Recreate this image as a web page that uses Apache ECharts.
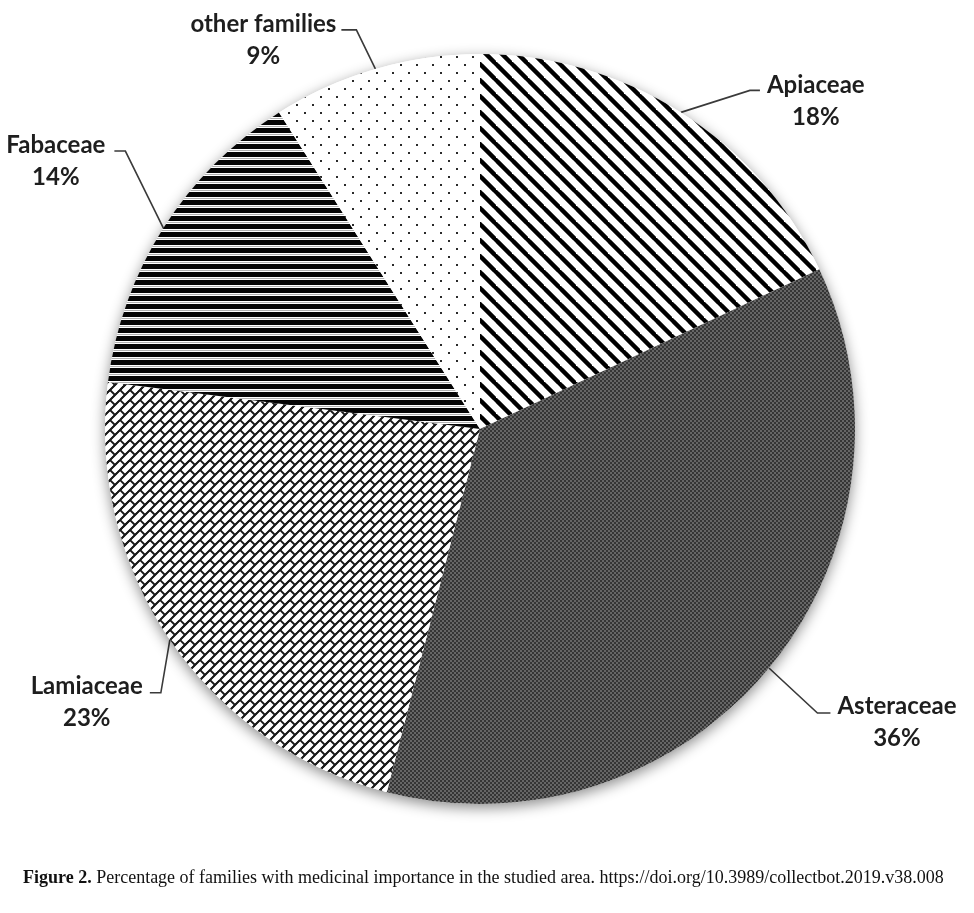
<!DOCTYPE html>
<html><head><meta charset="utf-8">
<script src="https://cdn.jsdelivr.net/npm/echarts@6/dist/echarts.min.js"></script>
<style>html,body{margin:0;padding:0;background:#fff}#c{width:974px;height:913px}</style>
</head><body><div id="c"></div>
<script>
// ---- data ----
const categories = ['Apiaceae', 'Asteraceae', 'Lamiaceae', 'Fabaceae', 'other families'];
const values = [18, 36, 23, 14, 9];
const captionBold = 'Figure 2.';
const captionText = ' Percentage of families with medicinal importance in the studied area. https://doi.org/10.3989/collectbot.2019.v38.008';

// ---- pattern fills ----
function tile(size, draw) {
  const c = document.createElement('canvas');
  c.width = c.height = size;
  const ctx = c.getContext('2d');
  ctx.fillStyle = '#fff';
  ctx.fillRect(0, 0, size, size);
  for (let i = -1; i <= 1; i++) for (let j = -1; j <= 1; j++) {
    ctx.save(); ctx.translate(i * size, j * size); draw(ctx, size); ctx.restore();
  }
  return c;
}
const patDiag = tile(16, (ctx) => {
  ctx.strokeStyle = '#000'; ctx.lineWidth = 3.9;
  ctx.beginPath(); ctx.moveTo(-16, -16); ctx.lineTo(32, 32); ctx.stroke();
});
const patChecker = (() => {
  const c = document.createElement('canvas'); c.width = c.height = 4;
  const ctx = c.getContext('2d');
  ctx.fillStyle = '#666666'; ctx.fillRect(0, 0, 4, 4);
  ctx.fillStyle = '#353535'; ctx.fillRect(0, 0, 2, 2); ctx.fillRect(2, 2, 2, 2);
  return c;
})();
const patBrick = tile(20, (ctx) => {
  ctx.strokeStyle = '#1a1a1a'; ctx.lineWidth = 1.8;
  ctx.beginPath();
  [0, 10].forEach(cu => { ctx.moveTo(-20, cu + 20); ctx.lineTo(40, cu - 40); });
  ctx.moveTo(0, 0); ctx.lineTo(5, 5);
  ctx.moveTo(10, -10); ctx.lineTo(15, -5);
  ctx.moveTo(10, 0); ctx.lineTo(15, 5);
  ctx.moveTo(0, 10); ctx.lineTo(5, 15);
  ctx.stroke();
});
const patHoriz = (() => {
  const c = document.createElement('canvas'); c.width = c.height = 8;
  const ctx = c.getContext('2d');
  ctx.fillStyle = '#fff'; ctx.fillRect(0, 0, 8, 8);
  ctx.fillStyle = '#050505'; ctx.fillRect(0, 0, 8, 5);
  ctx.fillStyle = '#b0b0b0'; ctx.fillRect(0, 6, 8, 1);
  return c;
})();
const patDots = tile(16, (ctx) => {
  ctx.fillStyle = '#2a2a2a';
  ctx.fillRect(0, 0, 2, 2); ctx.fillRect(8, 8, 2, 2);
});
const fills = [patDiag, patChecker, patBrick, patHoriz, patDots];

// label leader geometry (relative offsets from the slice edge point)
const labelPlacement = [
  { bend: [69, -22], run: 10, gap: 7, dy: 10.5 },
  { bend: [48.5, 45], run: 13, gap: 7, dy: 9.5 },
  { bend: [-9, 53], run: -11, gap: 7, dy: 9.5 },
  { bend: [-38, -77], run: -11, gap: 9, dy: 10.5 },
  { bend: [-19, -39], run: -15, gap: 5, dy: 10 }
];

const chart = echarts.init(document.getElementById('c'), null, { renderer: 'canvas' });
const CENTER = [480, 429];
const R = 375;

chart.setOption({
  backgroundColor: '#fff',
  animation: false,
  title: {
    text: '{b|' + captionBold + '}' + captionText,
    left: 18, top: 864,
    textStyle: {
      fontFamily: 'Liberation Serif', fontSize: 18, fontWeight: 'normal', color: '#111',
      rich: { b: { fontFamily: 'Liberation Serif', fontSize: 18, fontWeight: 'bold', color: '#111' } }
    }
  },
  series: [
    {
      type: 'pie', silent: true, center: CENTER, radius: R,
      data: [{ value: 1, name: '' }],
      label: { show: false }, labelLine: { show: false },
      itemStyle: { color: '#fff', shadowBlur: 14, shadowColor: 'rgba(0,0,0,0.45)', shadowOffsetY: 4 },
      emphasis: { disabled: true }
    },
    {
      type: 'pie', center: CENTER, radius: R, startAngle: 90, clockwise: true,
      avoidLabelOverlap: false,
      data: categories.map((n, i) => ({
        name: n, value: values[i],
        itemStyle: { color: { image: fills[i], repeat: 'repeat' } }
      })),
      itemStyle: { borderWidth: 0 },
      emphasis: { disabled: true },
      label: {
        show: true, position: 'outside',
        formatter: (p) => p.name + '\n' + p.value + '%',
        fontFamily: 'Lato', fontWeight: 'bold', fontSize: 24, lineHeight: 32,
        color: '#1e1e1e', align: 'center'
      },
      labelLine: { show: true, length: 20, length2: 10, lineStyle: { color: '#3a3a3a', width: 1.6 } },
      labelLayout: function (params) {
        const p = labelPlacement[params.dataIndex];
        const pts = params.labelLinePoints;
        const p0 = [pts[0][0], pts[0][1]];
        const b = [p0[0] + p.bend[0], p0[1] + p.bend[1]];
        const e = [b[0] + p.run, b[1]];
        const w = params.labelRect.width;
        const x = p.run > 0 ? e[0] + p.gap + w / 2 : e[0] - p.gap - w / 2;
        return { x: x, y: e[1] + p.dy, align: 'center', verticalAlign: 'middle', labelLinePoints: [p0, b, e] };
      }
    }
  ]
});
</script>
</body></html>
